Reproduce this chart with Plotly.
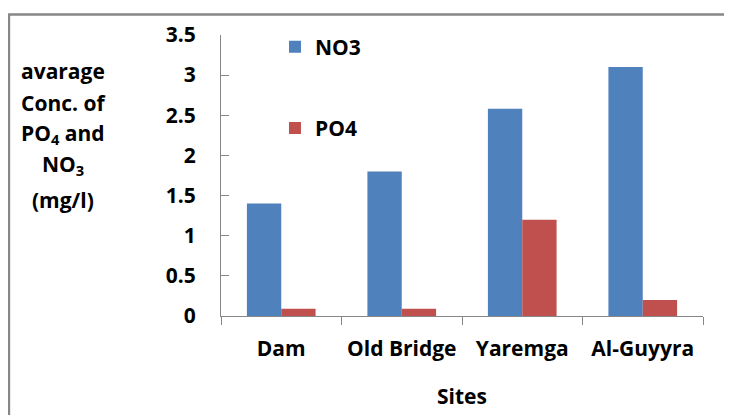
import plotly.graph_objects as go

sites = ['Dam', 'Old Bridge', 'Yaremga', 'Al-Guyyra']
no3 = [1.4, 1.8, 2.58, 3.1]
po4 = [0.09, 0.09, 1.2, 0.2]

ytitle_lines = ['avarage', 'Conc. of', 'PO<sub>4</sub> and', 'NO<sub>3</sub>', '(mg/l)']

FONT = 'Open Sans'
SIZE = 21

# page body adds 8px offset, so margins are trimmed by that amount
fig = go.Figure()

fig.add_trace(go.Bar(
    x=sites, y=no3, name='NO3',
    marker=dict(color='#4f81bd', line=dict(width=0)),
    legendgroup='a'
))
fig.add_trace(go.Bar(
    x=sites, y=po4, name='PO4',
    marker=dict(color='#c0504d', line=dict(width=0)),
    legendgroup='b'
))

# plot area: 221..703 px wide, 29..316 px tall
plot_h = 287
annotations = []
line_y = [66, 98, 130, 162, 198]
for txt, yp in zip(ytitle_lines, line_y):
    annotations.append(dict(
        text=txt, xref='paper', yref='paper',
        x=(63 - 221) / 482, y=(316 - yp) / plot_h,
        xanchor='center', yanchor='middle',
        showarrow=False,
        font=dict(family=FONT, size=SIZE, color='black', weight='bold'),
    ))

fig.update_layout(
    width=732,
    height=415,
    barmode='group',
    bargap=0.43,
    bargroupgap=0,
    plot_bgcolor='white',
    paper_bgcolor='white',
    margin=dict(t=21, b=107, l=213, r=37),
    font=dict(family=FONT, size=SIZE, color='black', weight='bold'),
    showlegend=True,
    legend=dict(
        x=0.112, y=1.03, xanchor='left', yanchor='top',
        tracegroupgap=51,
        font=dict(family=FONT, size=SIZE, color='black', weight='bold'),
        bgcolor='rgba(0,0,0,0)'
    ),
    xaxis=dict(
        showline=True, linecolor='#868686', linewidth=1,
        ticks='outside', ticklen=8, tickcolor='#868686',
        tickson='boundaries',
        ticklabelstandoff=14,
        title=dict(text='Sites', standoff=28,
                   font=dict(family=FONT, size=SIZE, weight='bold')),
        tickfont=dict(family=FONT, size=SIZE, weight='bold'),
    ),
    yaxis=dict(
        range=[0, 3.5],
        dtick=0.5,
        showgrid=False,
        zeroline=False,
        showline=True, linecolor='#868686', linewidth=1,
        ticks='inside', ticklen=8, tickcolor='#868686',
        ticklabelstandoff=20,
        tickfont=dict(family=FONT, size=SIZE, weight='bold'),
    ),
    annotations=annotations,
    shapes=[dict(
        type='rect', xref='paper', yref='paper',
        x0=-0.44, x1=1.08, y0=-0.4, y1=1.073,
        line=dict(color='#878787', width=2.5),
    )],
)

fig.write_html('out.html')
